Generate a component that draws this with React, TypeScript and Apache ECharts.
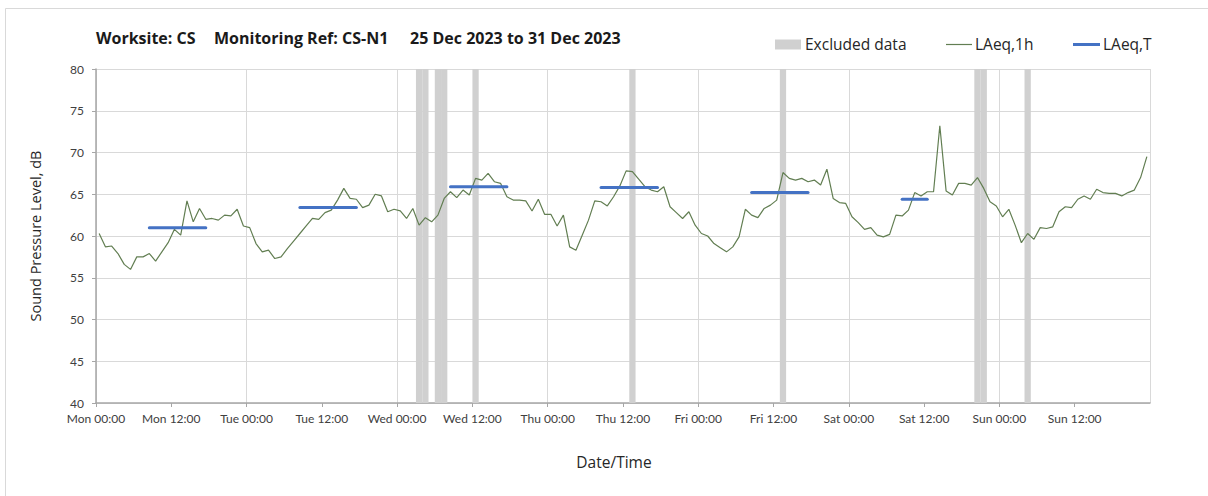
import React, { useEffect, useRef } from "react";
import * as echarts from "echarts";

// Hourly LAeq,1h values, one per hour starting Mon 00:00 (plotted at mid-hour)
const hourlyLevels: number[] = [
  // Mon
  60.3, 58.7, 58.8, 57.9, 56.6, 56.0, 57.5, 57.5, 57.9, 57.0, 58.1, 59.2,
  60.8, 60.1, 64.2, 61.7, 63.3, 62.0, 62.1, 61.9, 62.5, 62.4, 63.2, 61.2,
  // Tue
  61.0, 59.1, 58.1, 58.3, 57.3, 57.5, 58.5, 59.4, 60.3, 61.2, 62.1, 62.0,
  62.8, 63.1, 64.3, 65.7, 64.5, 64.4, 63.4, 63.7, 65.0, 64.8, 62.9, 63.2,
  // Wed
  63.0, 62.1, 63.3, 61.3, 62.2, 61.7, 62.5, 64.5, 65.3, 64.6, 65.5, 64.9,
  66.9, 66.7, 67.5, 66.5, 66.3, 64.7, 64.3, 64.3, 64.2, 63.0, 64.4, 62.6,
  // Thu
  62.6, 61.2, 62.5, 58.7, 58.3, 60.1, 61.9, 64.2, 64.1, 63.6, 64.7, 66.0,
  67.8, 67.7, 66.8, 65.9, 65.5, 65.3, 65.9, 63.5, 62.8, 62.1, 62.9, 61.3,
  // Fri
  60.3, 60.0, 59.1, 58.6, 58.1, 58.7, 59.9, 63.2, 62.5, 62.2, 63.3, 63.7,
  64.3, 67.6, 66.9, 66.7, 66.9, 66.5, 66.7, 66.1, 68.0, 64.5, 64.0, 63.9,
  // Sat
  62.3, 61.6, 60.8, 61.0, 60.1, 59.9, 60.2, 62.5, 62.4, 63.1, 65.2, 64.8,
  65.3, 65.3, 73.2, 65.4, 64.9, 66.3, 66.3, 66.1, 67.0, 65.7, 64.1, 63.6,
  // Sun
  62.3, 63.2, 61.3, 59.2, 60.3, 59.6, 61.0, 60.9, 61.1, 62.9, 63.5, 63.4,
  64.4, 64.8, 64.4, 65.6, 65.2, 65.1, 65.1, 64.8, 65.2, 65.5, 67.0, 69.5,
];

// Hours (from Mon 00:00) flagged as excluded data
const excludedHours: number[] = [51, 52, 54, 55, 60, 85, 109, 140, 141, 148];

// LAeq,T periods
const periodStart: number[] = [8.5, 32.5, 56.5, 80.5, 104.5, 128.5];
const periodEnd: number[] = [17.5, 41.5, 65.5, 89.5, 113.5, 132.5];
const periodLevels: number[] = [61.0, 63.4, 65.9, 65.8, 65.2, 64.4];

const xTickLabels: string[] = [
  "Mon 00:00", "Mon 12:00", "Tue 00:00", "Tue 12:00", "Wed 00:00", "Wed 12:00",
  "Thu 00:00", "Thu 12:00", "Fri 00:00", "Fri 12:00", "Sat 00:00", "Sat 12:00",
  "Sun 00:00", "Sun 12:00",
];

const FONT = "Lato, 'Open Sans', sans-serif";
const FONT2 = "'Open Sans', Lato, sans-serif";

export default function App() {
  const ref = useRef<HTMLDivElement>(null);

  useEffect(() => {
    if (!ref.current) return;
    const chart = echarts.init(ref.current, undefined, { renderer: "svg" });

    const periodSeries = periodLevels.map((lvl, k) => ({
      name: "LAeq,T",
      type: "line",
      xAxisIndex: 0,
      yAxisIndex: 0,
      data: [
        [periodStart[k], lvl],
        [periodEnd[k], lvl],
      ],
      symbol: "none",
      z: 5,
      lineStyle: { color: "#4472c4", width: 3, cap: "round" },
      silent: true,
    }));

    const titleStyle = { fontFamily: FONT2, fontSize: 16, fontWeight: "bold", color: "#1a1a1a" };

    const option: any = {
      animation: false,
      textStyle: { fontFamily: FONT },
      title: [
        { text: "Worksite: CS", left: 96, top: 30, padding: 0, textStyle: titleStyle },
        { text: "Monitoring Ref: CS-N1", left: 214, top: 30, padding: 0, textStyle: titleStyle },
        { text: "25 Dec 2023 to 31 Dec 2023", left: 410, top: 30, padding: 0, textStyle: titleStyle },
      ],
      graphic: [
        { type: "line", shape: { x1: 5.5, y1: 8.5, x2: 1208, y2: 8.5 }, style: { stroke: "#d9d9d9", lineWidth: 1 }, silent: true },
        { type: "line", shape: { x1: 5.5, y1: 8.5, x2: 5.5, y2: 496 }, style: { stroke: "#d9d9d9", lineWidth: 1 }, silent: true },
        // legend
        { type: "rect", shape: { x: 775, y: 39.5, width: 26, height: 10 }, style: { fill: "#d0d0d0" }, silent: true },
        {
          type: "text", x: 805, y: 44,
          style: { text: "Excluded data", fontFamily: FONT2, fontSize: 15.5, fill: "#262626", verticalAlign: "middle" },
          silent: true,
        },
        { type: "line", shape: { x1: 946, y1: 44.5, x2: 972, y2: 44.5 }, style: { stroke: "#627e52", lineWidth: 1.2 }, silent: true },
        {
          type: "text", x: 975, y: 44,
          style: { text: "LAeq,1h", fontFamily: FONT2, fontSize: 15.5, fill: "#262626", verticalAlign: "middle" },
          silent: true,
        },
        { type: "line", shape: { x1: 1073, y1: 44.5, x2: 1100, y2: 44.5 }, style: { stroke: "#4472c4", lineWidth: 3 }, silent: true },
        {
          type: "text", x: 1103, y: 44,
          style: { text: "LAeq,T", fontFamily: FONT2, fontSize: 15.5, fill: "#262626", verticalAlign: "middle" },
          silent: true,
        },
      ],
      grid: { left: 96, right: 58, top: 69, bottom: 93, containLabel: false },
      xAxis: [
        {
          type: "value",
          min: 0,
          max: 168,
          interval: 12,
          position: "bottom",
          axisLine: { show: true, lineStyle: { color: "#a6a6a6", width: 1.5 } },
          axisTick: { show: true, length: 4, lineStyle: { color: "#a6a6a6" } },
          axisLabel: {
            show: true,
            margin: 9,
            fontSize: 12,
            fontFamily: FONT,
            color: "#404040",
            showMaxLabel: false,
            formatter: (v: number) => xTickLabels[Math.round(v / 12)] ?? "",
          },
          splitLine: { show: false },
          name: "Date/Time",
          nameLocation: "middle",
          nameGap: 51,
          nameTextStyle: { fontFamily: FONT2, fontSize: 15.5, color: "#262626", padding: [0, 18, 0, 0] },
        },
        {
          type: "value",
          min: 0,
          max: 168,
          interval: 24,
          position: "bottom",
          axisLine: { show: false },
          axisTick: { show: false },
          axisLabel: { show: false },
          splitLine: { show: true, lineStyle: { color: "#d9d9d9", width: 1 } },
        },
      ],
      yAxis: {
        type: "value",
        min: 40,
        max: 80,
        interval: 5,
        axisLine: { show: true, lineStyle: { color: "#a6a6a6", width: 1.5 } },
        axisTick: { show: true, length: 4, lineStyle: { color: "#a6a6a6" } },
        axisLabel: { margin: 12, fontSize: 12, fontFamily: FONT, color: "#404040" },
        splitLine: { show: true, lineStyle: { color: "#d9d9d9", width: 1.2 } },
        name: "Sound Pressure Level, dB",
        nameLocation: "middle",
        nameGap: 53,
        nameRotate: 90,
        nameTextStyle: { fontFamily: FONT2, fontSize: 14.5, color: "#262626" },
      },
      series: [
        {
          name: "Excluded data",
          type: "custom",
          xAxisIndex: 0,
          yAxisIndex: 0,
          z: 1,
          silent: true,
          encode: { x: [0, 1] },
          data: excludedHours.map((h) => [h, h + 1]),
          renderItem: (params: any, api: any) => {
            const p0 = api.coord([api.value(0), 80]);
            const p1 = api.coord([api.value(1), 40]);
            return {
              type: "rect",
              shape: { x: p0[0], y: p0[1], width: p1[0] - p0[0], height: p1[1] - p0[1] },
              style: { fill: "#d0d0d0" },
            };
          },
        },
        {
          name: "LAeq,1h",
          type: "line",
          xAxisIndex: 0,
          yAxisIndex: 0,
          data: hourlyLevels.map((v, i) => [i + 0.5, v]),
          symbol: "none",
          z: 3,
          silent: true,
          lineStyle: { color: "#627e52", width: 1.2 },
        },
        ...periodSeries,
      ],
    };

    chart.setOption(option);
    return () => chart.dispose();
  }, []);

  return (
    <div
      ref={ref}
      style={{ position: "fixed", left: 0, top: 0, width: 1208, height: 496, background: "#fff" }}
    />
  );
}
